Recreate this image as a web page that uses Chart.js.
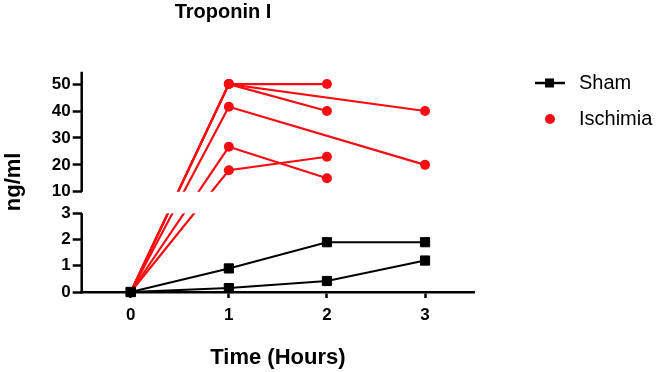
<!DOCTYPE html>
<html>
<head>
<meta charset="utf-8">
<script src="https://cdn.jsdelivr.net/npm/chart.js@4.4.1/dist/chart.umd.min.js"></script>
<style>
  body { margin: 0; background: #fff; }
</style>
</head>
<body>
<canvas id="troponin" width="656" height="372"></canvas>
<script>
// data
var TIMES = [0, 1, 2, 3];
var X_TICKS = [0, 1, 2, 3];
var Y_TICKS_LOW = [0, 1, 2, 3];
var Y_TICKS_UP = [10, 20, 30, 40, 50];

var SHAM_1 = [0, 0.9, 1.9, 1.9];
var SHAM_2 = [0, 0.15, 0.42, 1.2];

var ISCH_1 = [0, 50, 50, null];
var ISCH_2 = [0, 50, 40, null];
var ISCH_3 = [0, 50, null, 40];
var ISCH_4 = [0, 41.6, null, 20];
var ISCH_5 = [0, 26.7, 15, null];
var ISCH_6 = [0, 18, 23, null];

var TITLE = 'Troponin I';
var X_TITLE = 'Time (Hours)';
var Y_TITLE = 'ng/ml';
var LEGEND = ['Sham', 'Ischimia'];

// broken axis: 0-3 below, 10-54.6 above, in units of the lower segment
var LOW_MAX = 3;
var GAP = 0.824;
var UP_MIN = 10;
var UP_MAX = 54.6;
var UP_SCALE = 0.1027;

var RED = '#f70d12';
var FONT = "'Liberation Sans', Arial, sans-serif";

function toDisp(v) {
  if (v <= LOW_MAX) return v;
  return LOW_MAX + GAP + (v - UP_MIN) * UP_SCALE;
}

function points(arr) {
  var out = [];
  for (var i in arr) {
    if (arr[i] !== null) out.push({x: TIMES[i], y: toDisp(arr[i])});
  }
  return out;
}

var Y_LABELS = Y_TICKS_LOW.concat(Y_TICKS_UP);

var sham = [SHAM_1, SHAM_2];
var isch = [ISCH_1, ISCH_2, ISCH_3, ISCH_4, ISCH_5, ISCH_6];
var datasets = [];

for (var i in sham) {
  datasets.push({
    label: 'Sham',
    data: points(sham[i]),
    borderColor: '#000',
    backgroundColor: '#000',
    borderWidth: 2,
    pointStyle: 'rect',
    pointRadius: 6.5,
    pointBorderWidth: 1,
    clip: false
  });
}
for (var j in isch) {
  datasets.push({
    label: 'Ischimia',
    data: points(isch[j]),
    borderColor: RED,
    backgroundColor: RED,
    borderWidth: 2.2,
    pointStyle: 'circle',
    pointRadius: 5,
    pointBorderWidth: 0,
    clip: false
  });
}

var brokenAxis = {
  id: 'brokenAxis',
  afterDatasetsDraw: function (chart) {
    var ctx = chart.ctx, a = chart.chartArea, y = chart.scales.y;
    var yTop = y.getPixelForValue(toDisp(UP_MIN));
    var yBot = y.getPixelForValue(LOW_MAX);
    ctx.save();
    ctx.fillStyle = '#fff';
    ctx.fillRect(a.left + 2, yTop, a.right - a.left, yBot - yTop);
    ctx.restore();
  },
  afterDraw: function (chart) {
    var ctx = chart.ctx, a = chart.chartArea, y = chart.scales.y;
    var yTop = y.getPixelForValue(toDisp(UP_MIN));
    var yBot = y.getPixelForValue(LOW_MAX);
    ctx.save();
    // y axis in two pieces
    ctx.strokeStyle = '#000';
    ctx.lineWidth = 2.5;
    ctx.beginPath();
    ctx.moveTo(a.left, a.top);
    ctx.lineTo(a.left, yTop);
    ctx.moveTo(a.left, yBot);
    ctx.lineTo(a.left, a.bottom + 1.25);
    ctx.stroke();

    // title
    ctx.fillStyle = '#000';
    ctx.font = 'bold 20px ' + FONT;
    ctx.textAlign = 'center';
    ctx.textBaseline = 'middle';
    ctx.fillText(TITLE, 223, 12);

    // legend
    ctx.lineWidth = 2.5;
    ctx.beginPath();
    ctx.moveTo(535, 83);
    ctx.lineTo(565, 83);
    ctx.stroke();
    ctx.fillRect(545, 78.5, 9, 9);
    ctx.fillStyle = RED;
    ctx.beginPath();
    ctx.arc(550, 119, 5, 0, Math.PI * 2);
    ctx.fill();
    ctx.fillStyle = '#000';
    ctx.font = '20px ' + FONT;
    ctx.textAlign = 'left';
    ctx.fillText(LEGEND[0], 579, 83);
    ctx.fillText(LEGEND[1], 579, 119);
    ctx.restore();
  }
};

var ctx = document.getElementById('troponin');
var myChart = new Chart(ctx, {
  type: 'line',
  data: { datasets: datasets },
  plugins: [brokenAxis],
  options: {
    responsive: false,
    animation: false,
    devicePixelRatio: 1,
    layout: { padding: { left: 0, right: 181.9, top: 71.7, bottom: 0 } },
    plugins: {
      legend: { display: false },
      title: { display: false },
      tooltip: { enabled: false }
    },
    scales: {
      x: {
        type: 'linear',
        min: -0.5,
        max: 3.5,
        afterBuildTicks: function (axis) {
          axis.ticks = X_TICKS.map(function (v) { return {value: v}; });
        },
        afterFit: function (s) { s.height = 80; },
        grid: {
          drawOnChartArea: false,
          drawTicks: true,
          tickLength: 6,
          tickColor: '#000',
          tickWidth: 2.5
        },
        border: { display: true, color: '#000', width: 2.5 },
        ticks: {
          color: '#000',
          padding: 7,
          font: { family: FONT, size: 17, weight: 'bold' }
        },
        title: {
          display: true,
          text: X_TITLE,
          color: '#000',
          padding: { top: 0, bottom: 1 },
          font: { family: FONT, size: 22, weight: 'bold' }
        }
      },
      y: {
        type: 'linear',
        min: 0,
        max: toDisp(UP_MAX),
        afterBuildTicks: function (axis) {
          axis.ticks = Y_LABELS.map(function (v) { return {value: toDisp(v)}; });
        },
        afterFit: function (s) { s.width = 81.7; },
        grid: {
          drawOnChartArea: false,
          drawTicks: true,
          tickLength: 9,
          tickColor: '#000',
          tickWidth: 2.5
        },
        border: { display: false },
        ticks: {
          color: '#000',
          padding: 2,
          font: { family: FONT, size: 17, weight: 'bold' },
          callback: function (value, index) { return String(Y_LABELS[index]); }
        },
        title: {
          display: true,
          text: Y_TITLE,
          color: '#000',
          padding: { top: 1, bottom: 0 },
          font: { family: FONT, size: 22, weight: 'bold' }
        }
      }
    }
  }
});
</script>
</body>
</html>
